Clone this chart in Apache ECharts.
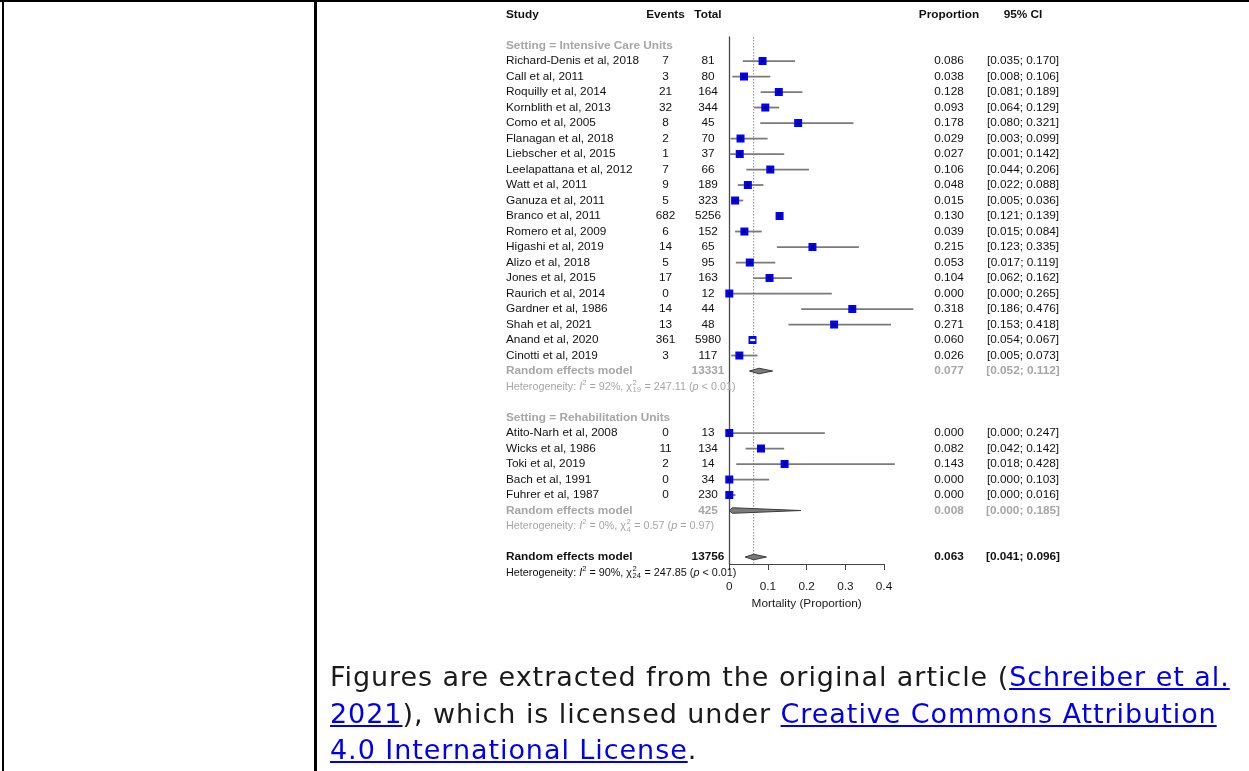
<!DOCTYPE html>
<html><head><meta charset="utf-8">
<script src="https://cdn.jsdelivr.net/npm/echarts@6/dist/echarts.min.js"></script>
<style>
html,body{margin:0;padding:0;background:#fff;}
#wrap{position:relative;width:1249px;height:771px;overflow:hidden;background:#fff;}
.b{position:absolute;background:#000;}
#chart{position:absolute;left:0;top:0;width:1249px;height:771px;}
#cap{position:absolute;left:330px;top:659px;font-family:"DejaVu Sans",sans-serif;font-size:27px;line-height:36.5px;color:#1b1b1b;white-space:nowrap;}
#cap .ln{display:block;width:max-content;}
#cap a{color:#0000ee;text-decoration:underline;}
</style></head><body>
<div id="wrap">
<div class="b" style="left:0;top:0;width:1249px;height:2px"></div>
<div class="b" style="left:2px;top:0;width:2px;height:771px"></div>
<div class="b" style="left:314px;top:0;width:3px;height:771px"></div>
<div id="chart"></div>
<div id="cap"><span class="ln" id="ln1">Figures are extracted from the original article (<a href="#">Schreiber et al.</a></span><span class="ln"><a href="#">2021</a>), which is licensed under <a href="#">Creative Commons Attribution</a></span><span class="ln"><a href="#">4.0 International License</a>.</span></div>
</div>
<script>
// ---------------- data ----------------
const headers = ['Study', 'Events', 'Total', 'Proportion', '95% CI'];
const subgroupLabels = ['Setting = Intensive Care Units', 'Setting = Rehabilitation Units'];
const modelLabel = 'Random effects model';

const icuStudies = ['Richard-Denis et al, 2018', 'Call et al, 2011', 'Roquilly et al, 2014', 'Kornblith et al, 2013',
  'Como et al, 2005', 'Flanagan et al, 2018', 'Liebscher et al, 2015', 'Leelapattana et al, 2012', 'Watt et al, 2011',
  'Ganuza et al, 2011', 'Branco et al, 2011', 'Romero et al, 2009', 'Higashi et al, 2019', 'Alizo et al, 2018',
  'Jones et al, 2015', 'Raurich et al, 2014', 'Gardner et al, 1986', 'Shah et al, 2021', 'Anand et al, 2020',
  'Cinotti et al, 2019'];
const icuEvents = [7, 3, 21, 32, 8, 2, 1, 7, 9, 5, 682, 6, 14, 5, 17, 0, 14, 13, 361, 3];
const icuTotals = [81, 80, 164, 344, 45, 70, 37, 66, 189, 323, 5256, 152, 65, 95, 163, 12, 44, 48, 5980, 117];
const icuProp = [0.086, 0.038, 0.128, 0.093, 0.178, 0.029, 0.027, 0.106, 0.048, 0.015, 0.130, 0.039, 0.215, 0.053, 0.104, 0.000, 0.318, 0.271, 0.060, 0.026];
const icuLower = [0.035, 0.008, 0.081, 0.064, 0.080, 0.003, 0.001, 0.044, 0.022, 0.005, 0.121, 0.015, 0.123, 0.017, 0.062, 0.000, 0.186, 0.153, 0.054, 0.005];
const icuUpper = [0.170, 0.106, 0.189, 0.129, 0.321, 0.099, 0.142, 0.206, 0.088, 0.036, 0.139, 0.084, 0.335, 0.119, 0.162, 0.265, 0.476, 0.418, 0.067, 0.073];

const rehabStudies = ['Atito-Narh et al, 2008', 'Wicks et al, 1986', 'Toki et al, 2019', 'Bach et al, 1991', 'Fuhrer et al, 1987'];
const rehabEvents = [0, 11, 2, 0, 0];
const rehabTotals = [13, 134, 14, 34, 230];
const rehabProp = [0.000, 0.082, 0.143, 0.000, 0.000];
const rehabLower = [0.000, 0.042, 0.018, 0.000, 0.000];
const rehabUpper = [0.247, 0.142, 0.428, 0.103, 0.016];

// models: [ICU subgroup, Rehab subgroup, overall]
const modelTotals = [13331, 425, 13756];
const modelEst = [0.077, 0.008, 0.063];
const modelLower = [0.052, 0.000, 0.041];
const modelUpper = [0.112, 0.185, 0.096];
const hetI2 = [92, 0, 90];
const hetDf = [19, 4, 24];
const hetQ = [247.11, 0.57, 247.85];
const hetP = ['< 0.01', '= 0.97', '< 0.01'];

const xTicks = [0, 0.1, 0.2, 0.3, 0.4];
const xTitle = 'Mortality (Proportion)';

// ---------------- layout / style ----------------
const FAM = '"Liberation Sans", Arial, Helvetica, sans-serif';
const FS = 11.8, FS_HET = 10.8, FS_SMALL = 7.6;
const BLACK = '#111111', GRAY = '#a6a6a6';
const COL = { study: 506, events: 665.5, total: 708, prop: 949, ci: 1023 };
const CI_COLOR = '#7a7a7a', SQ_COLOR = '#0000ff', SQ = 8;

// row slots (first row = column headers)
const R_HEAD = 0, R_G1 = 2, R_ICU0 = 3;
const R_RE1 = R_ICU0 + icuStudies.length;
const R_HET1 = R_RE1 + 1;
const R_G2 = R_HET1 + 2;
const R_RH0 = R_G2 + 1;
const R_RE2 = R_RH0 + rehabStudies.length;
const R_HET2 = R_RE2 + 1;
const R_RE = R_HET2 + 2;
const R_HET = R_RE + 1;
const Y_MIN = 1.45, Y_MAX = 35.45;

const f3 = v => v.toFixed(3);
const ciTxt = (l, u) => '[' + f3(l) + '; ' + f3(u) + ']';

// text rows
const textRows = [];
textRows.push({ row: R_HEAD, cells: headers.map((h, i) => ({ t: h, col: ['study', 'events', 'total', 'prop', 'ci'][i], w: 'bold', c: BLACK })) });
function addGroup(label, rowLabel, rowStart, names, ev, tot, p, lo, hi, mi, rowRe, rowHet) {
  textRows.push({ row: rowLabel, cells: [{ t: label, col: 'study', w: 'bold', c: GRAY }] });
  names.forEach((n, i) => {
    textRows.push({ row: rowStart + i, cells: [
      { t: n, col: 'study', c: BLACK }, { t: String(ev[i]), col: 'events', c: BLACK },
      { t: String(tot[i]), col: 'total', c: BLACK }, { t: f3(p[i]), col: 'prop', c: BLACK },
      { t: ciTxt(lo[i], hi[i]), col: 'ci', c: BLACK }] });
  });
  textRows.push({ row: rowRe, cells: [
    { t: modelLabel, col: 'study', w: 'bold', c: GRAY }, { t: String(modelTotals[mi]), col: 'total', w: 'bold', c: GRAY },
    { t: f3(modelEst[mi]), col: 'prop', w: 'bold', c: GRAY }, { t: ciTxt(modelLower[mi], modelUpper[mi]), col: 'ci', w: 'bold', c: GRAY }] });
  textRows.push({ row: rowHet, het: mi, c: GRAY });
}
addGroup(subgroupLabels[0], R_G1, R_ICU0, icuStudies, icuEvents, icuTotals, icuProp, icuLower, icuUpper, 0, R_RE1, R_HET1);
addGroup(subgroupLabels[1], R_G2, R_RH0, rehabStudies, rehabEvents, rehabTotals, rehabProp, rehabLower, rehabUpper, 1, R_RE2, R_HET2);
textRows.push({ row: R_RE, cells: [
  { t: modelLabel, col: 'study', w: 'bold', c: BLACK }, { t: String(modelTotals[2]), col: 'total', w: 'bold', c: BLACK },
  { t: f3(modelEst[2]), col: 'prop', w: 'bold', c: BLACK }, { t: ciTxt(modelLower[2], modelUpper[2]), col: 'ci', w: 'bold', c: BLACK }] });
textRows.push({ row: R_HET, het: 2, c: BLACK });

// study marks
const studyMarks = [];
icuProp.forEach((v, i) => studyMarks.push([v, R_ICU0 + i, icuLower[i], icuUpper[i]]));
rehabProp.forEach((v, i) => studyMarks.push([v, R_RH0 + i, rehabLower[i], rehabUpper[i]]));
const diamonds = [[modelEst[0], R_RE1, modelLower[0], modelUpper[0]],
                  [modelEst[1], R_RE2, modelLower[1], modelUpper[1]],
                  [modelEst[2], R_RE, modelLower[2], modelUpper[2]]];

// ---------------- helpers ----------------
const mctx = document.createElement('canvas').getContext('2d');
function font(size, weight, style) { return (style || 'normal') + ' ' + (weight || 'normal') + ' ' + size + 'px ' + FAM; }
function tw(t, f) { mctx.font = f; return mctx.measureText(t).width; }

function hetChildren(mi, x, y, color) {
  const base = font(FS_HET), ital = font(FS_HET, 'normal', 'italic'), small = font(FS_SMALL);
  const segs = [
    { t: 'Heterogeneity: ', f: base },
    { t: 'I', f: ital },
    { t: '2', f: small, dy: -4 },
    { t: ' = ' + hetI2[mi] + '%, ', f: base },
    { t: 'χ', f: base },
    { stack: ['2', String(hetDf[mi])] },
    { t: ' = ' + hetQ[mi].toFixed(2) + ' (', f: base },
    { t: 'p', f: ital },
    { t: ' ' + hetP[mi] + ')', f: base }
  ];
  const ch = [];
  let cx = x;
  segs.forEach(s => {
    if (s.stack) {
      const w1 = tw(s.stack[0], small), w2 = tw(s.stack[1], small);
      ch.push({ type: 'text', x: cx + 0.5, y: y - 4, style: { text: s.stack[0], font: small, fill: color, align: 'left', verticalAlign: 'middle' } });
      ch.push({ type: 'text', x: cx + 0.5, y: y + 3.5, style: { text: s.stack[1], font: small, fill: color, align: 'left', verticalAlign: 'middle' } });
      cx += Math.max(w1, w2) + 1;
    } else {
      ch.push({ type: 'text', x: cx, y: y + (s.dy || 0), style: { text: s.t, font: s.f, fill: color, align: 'left', verticalAlign: 'middle' } });
      cx += tw(s.t, s.f);
    }
  });
  return ch;
}

// ---------------- chart ----------------
const chart = echarts.init(document.getElementById('chart'), null, { renderer: 'canvas' });
chart.setOption({
  animation: false,
  backgroundColor: 'transparent',
  grid: { left: 729.3, top: 37, width: 154.7, height: 527, containLabel: false },
  xAxis: {
    type: 'value', min: xTicks[0], max: xTicks[xTicks.length - 1], interval: 0.1,
    axisLine: { show: true, lineStyle: { color: '#444', width: 1 } },
    axisTick: { show: true, length: 6, lineStyle: { color: '#444', width: 1 } },
    axisLabel: { margin: 17, fontSize: FS, fontFamily: FAM, color: '#1a1a1a',
      formatter: v => (v === 0 ? '0' : v.toFixed(1)) },
    splitLine: { show: false },
    name: xTitle, nameLocation: 'middle', nameGap: 33,
    nameTextStyle: { fontSize: FS, fontFamily: FAM, color: '#1a1a1a' }
  },
  yAxis: {
    type: 'value', inverse: true, min: Y_MIN, max: Y_MAX,
    axisLine: { show: true, lineStyle: { color: '#4a4a4a', width: 1.3 } },
    axisTick: { show: false }, axisLabel: { show: false }, splitLine: { show: false }
  },
  series: [
    { // dotted line at overall estimate
      type: 'line', data: [[modelEst[2], Y_MIN], [modelEst[2], Y_MAX]], symbol: 'none', silent: true,
      lineStyle: { color: '#8c8c8c', width: 1, type: [1.5, 1.5] }, z: 1
    },
    { // CI lines and squares
      type: 'custom', clip: false, z: 3, silent: true,
      data: studyMarks,
      renderItem: (params, api) => {
        const est = api.value(0), row = api.value(1), lo = api.value(2), hi = api.value(3);
        const c = api.coord([est, row]), a = api.coord([lo, row]), b = api.coord([hi, row]);
        const ch = [];
        const inside = (b[0] - a[0]) < 6;
        if (!inside) ch.push({ type: 'line', shape: { x1: a[0], y1: c[1], x2: b[0], y2: c[1] }, style: { stroke: CI_COLOR, lineWidth: 1.8 } });
        ch.push({ type: 'rect', shape: { x: c[0] - SQ / 2, y: c[1] - SQ / 2, width: SQ, height: SQ }, style: { fill: SQ_COLOR } });
        if (inside) ch.push({ type: 'line', shape: { x1: a[0], y1: c[1], x2: b[0], y2: c[1] }, style: { stroke: '#ffffff', lineWidth: 2.2 } });
        else ch.push({ type: 'rect', shape: { x: c[0] - 1.5, y: c[1] - 1.5, width: 3, height: 3 }, style: { fill: '#00005a' } });
        return { type: 'group', children: ch };
      }
    },
    { // diamonds
      type: 'custom', clip: false, z: 3, silent: true,
      data: diamonds,
      renderItem: (params, api) => {
        const est = api.value(0), row = api.value(1), lo = api.value(2), hi = api.value(3);
        const c = api.coord([est, row]), a = api.coord([lo, row]), b = api.coord([hi, row]);
        const h = 2.8;
        return { type: 'polygon', shape: { points: [[a[0], c[1]], [c[0], c[1] - h], [b[0], c[1]], [c[0], c[1] + h]] },
          style: { fill: '#7a7a7a', stroke: '#3a3a3a', lineWidth: 1 } };
      }
    },
    { // table text
      type: 'custom', clip: false, z: 4, silent: true,
      data: textRows.map((r, i) => [0, r.row, i]),
      renderItem: (params, api) => {
        const r = textRows[api.value(2)];
        const y = api.coord([0, api.value(1)])[1];
        if (r.het !== undefined) return { type: 'group', children: hetChildren(r.het, COL.study, y, r.c) };
        return { type: 'group', children: r.cells.map(cell => ({
          type: 'text', x: COL[cell.col], y: y,
          style: { text: cell.t, font: font(FS, cell.w || 'normal'), fill: cell.c,
            align: cell.col === 'study' ? 'left' : 'center', verticalAlign: 'middle' }
        })) };
      }
    }
  ]
});

// fit caption's first line to the reference width (330 -> 1230)
(function () {
  const ln = document.getElementById('ln1');
  const w = ln.getBoundingClientRect().width;
  const n = ln.textContent.length;
  const ls = (900 - w) / n;
  document.getElementById('cap').style.letterSpacing = ls.toFixed(2) + 'px';
})();
</script>
</body></html>
